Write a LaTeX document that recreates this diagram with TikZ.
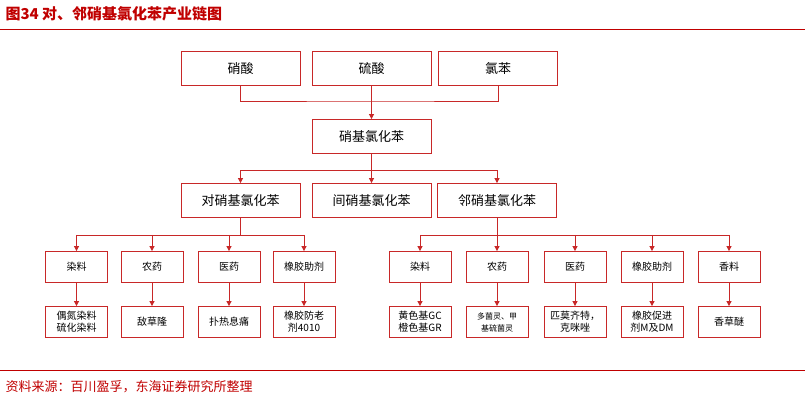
\documentclass[tikz,border=0pt]{standalone}
\usepackage{fontspec}
\setmainfont{Noto Sans CJK SC}
\usetikzlibrary{arrows.meta}
\definecolor{hred}{RGB}{192,0,0}
\definecolor{bred}{RGB}{200,40,40}
\tikzset{
  bigbox/.style={draw=bred,thick,minimum width=119pt,minimum height=34pt,font=\fontsize{13}{15}\selectfont},
  smallbox/.style={draw=bred,thick,minimum width=62pt,minimum height=31pt,font=\fontsize{10}{12}\selectfont,align=center},
  link/.style={draw=bred,thick},
  arr/.style={link,-{Triangle[length=5pt,width=5pt]}}
}
\begin{document}
\begin{tikzpicture}[x=1pt,y=-1pt]
  \useasboundingbox (0,0) rectangle (805,403);
  % title and source
  \node[anchor=west,text=hred,font=\fontsize{15}{17}\selectfont\bfseries] (title) at (2,14) {图34\ 对、邻硝基氯化苯产业链图};
  \draw[hred,thick] (0,29) -- (805,29);
  \draw[hred,thick] (0,370) -- (805,370);
  \node[anchor=west,text=hred,font=\fontsize{13}{15}\selectfont] (src) at (2,387) {资料来源：百川盈孚，东海证券研究所整理};

  % raw materials
  \node[bigbox] (nit) at (240.5,68.5) {硝酸};
  \node[bigbox] (sul) at (371.5,68.5) {硫酸};
  \node[bigbox] (clb) at (498,68.5) {氯苯};
  \node[bigbox] (ncb) at (371.5,136.5) {硝基氯化苯};
  \coordinate (j1) at (371.5,101);
  \draw[link] (nit.south) |- (j1) -| (clb.south);
  \draw[link] (sul.south) -- (j1);
  \draw[arr] (j1) -- (ncb.north);

  % isomers
  \node[bigbox] (para) at (240.5,200.5) {对硝基氯化苯};
  \node[bigbox] (meta) at (371.5,200.5) {间硝基氯化苯};
  \node[bigbox] (orth) at (497,200.5) {邻硝基氯化苯};
  \coordinate (j2) at (371.5,170);
  \draw[link] (ncb.south) -- (j2);
  \draw[arr] (j2) -| (para.north);
  \draw[arr] (j2) -| (orth.north);
  \draw[arr] (j2) -- (meta.north);

  % para branch
  \foreach \x/\n/\a/\b in {76.5/pa/染料/偶氮染料\\硫化染料, 152/pb/农药/敌草隆, 229/pc/医药/扑热息痛, 304/pd/橡胶助剂/橡胶防老\\剂4010}{
    \node[smallbox] (\n1) at (\x,267) {\a};
    \node[smallbox] (\n2) at (\x,322) {\b};
    \draw[arr] (\n1.south) -- (\n2.north);
  }
  \coordinate (j3) at (240.5,235);
  \draw[link] (para.south) -- (j3);
  \draw[link] (pa1.north |- j3) -- (pd1.north |- j3);
  \foreach \n in {pa,pb,pc,pd}
    \draw[arr] (\n1.north |- j3) -- (\n1.north);

  % ortho branch
  \foreach \x/\n/\a/\b in {420/oa/染料/黄色基GC\\橙色基GR, 497/ob/农药/{\fontsize{8}{10}\selectfont 多菌灵、甲}\\{\fontsize{8}{10}\selectfont 基硫菌灵}, 575/oc/医药/匹莫齐特，\\克咪唑, 652/od/橡胶助剂/橡胶促进\\剂M及DM, 729/oe/香料/香草醚}{
    \node[smallbox] (\n1) at (\x,267) {\a};
    \node[smallbox] (\n2) at (\x,322) {\b};
    \draw[arr] (\n1.south) -- (\n2.north);
  }
  \coordinate (j4) at (497,235);
  \draw[link] (orth.south) -- (j4);
  \draw[link] (oa1.north |- j4) -- (oe1.north |- j4);
  \foreach \n in {oa,ob,oc,od,oe}
    \draw[arr] (\n1.north |- j4) -- (\n1.north);
\end{tikzpicture}
\end{document}
